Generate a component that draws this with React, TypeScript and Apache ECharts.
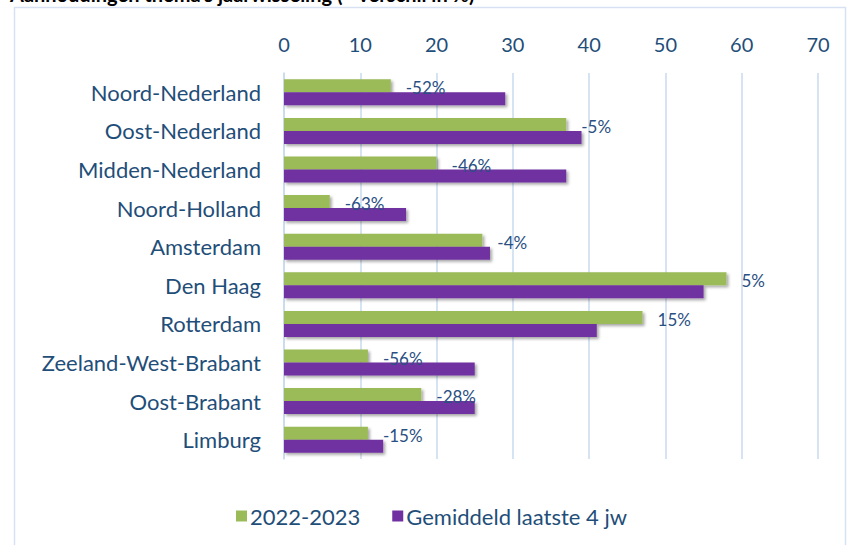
import React, { useEffect, useRef } from "react";
import * as echarts from "echarts";

const categories = [
  "Noord-Nederland",
  "Oost-Nederland",
  "Midden-Nederland",
  "Noord-Holland",
  "Amsterdam",
  "Den Haag",
  "Rotterdam",
  "Zeeland-West-Brabant",
  "Oost-Brabant",
  "Limburg",
];
const current = [14, 37, 20, 6, 26, 58, 47, 11, 18, 11];
const average = [29, 39, 37, 16, 27, 55, 41, 25, 25, 13];
const diffPct = [-52, -5, -46, -63, -4, 5, 15, -56, -28, -15];
const seriesNames = ["2022-2023", "Gemiddeld laatste 4 jw"];
const title = "Aanhoudingen thema's jaarwisseling (+ verschil in %)";

const FONT = "Lato, 'Noto Sans', sans-serif";
const TEXT = "#1F4E79";

export default function App() {
  const ref = useRef<HTMLDivElement>(null);
  useEffect(() => {
    if (!ref.current) return;
    const chart = echarts.init(ref.current, undefined, { renderer: "svg" });
    const shadow = {
      shadowBlur: 3,
      shadowOffsetX: 2,
      shadowOffsetY: 2,
      shadowColor: "rgba(0,0,0,0.35)",
    };
    chart.setOption({
      animation: false,
      backgroundColor: "#ffffff",
      textStyle: { fontFamily: FONT },
      graphic: [
        {
          type: "rect",
          shape: { x: 14.5, y: 7.5, width: 831, height: 560 },
          style: { fill: "none", stroke: "#D6E2F1", lineWidth: 1.5 },
          silent: true,
        },
        {
          type: "text",
          x: 10,
          y: -16,
          style: {
            text: title,
            fontFamily: FONT,
            fontWeight: "bold",
            fontSize: 20,
            fill: "#000000",
          },
          silent: true,
        },
      ],
      grid: { left: 284, right: 34, top: 73, bottom: 86 },
      xAxis: {
        type: "value",
        position: "top",
        min: 0,
        max: 70,
        interval: 10,
        axisLine: { show: false },
        axisTick: { show: false },
        axisLabel: { fontSize: 20, color: TEXT, margin: 19, fontFamily: FONT },
        splitLine: { lineStyle: { color: "#C9DAEE", width: 1.5 } },
      },
      yAxis: {
        type: "category",
        data: categories,
        inverse: true,
        axisLine: { show: true, lineStyle: { color: "#C9DAEE", width: 1.5 } },
        axisTick: { show: false },
        axisLabel: { fontSize: 22, color: TEXT, margin: 23, fontFamily: FONT },
      },
      legend: {
        bottom: 13,
        left: 231,
        icon: "rect",
        itemWidth: 11,
        itemHeight: 11,
        itemGap: 32,
        textStyle: { fontSize: 22, color: TEXT, fontFamily: FONT, padding: [0, 0, 0, -2] },
        data: seriesNames,
      },
      series: [
        {
          name: seriesNames[0],
          type: "bar",
          data: current,
          barWidth: 13,
          barGap: "0%",
          itemStyle: { color: "#9BBB59", ...shadow },
          label: {
            show: true,
            position: "right",
            distance: 15,
            offset: [0, 2],
            fontSize: 17,
            color: "#2A4F82",
            fontFamily: FONT,
            formatter: (p: any) => `${diffPct[p.dataIndex]}%`,
          },
        },
        {
          name: seriesNames[1],
          type: "bar",
          data: average,
          barWidth: 13,
          barGap: "0%",
          itemStyle: { color: "#7030A0", ...shadow },
        },
      ],
    });
    return () => chart.dispose();
  }, []);
  return (
    <div
      ref={ref}
      style={{ position: "fixed", left: 0, top: 0, width: 852, height: 545 }}
    />
  );
}
